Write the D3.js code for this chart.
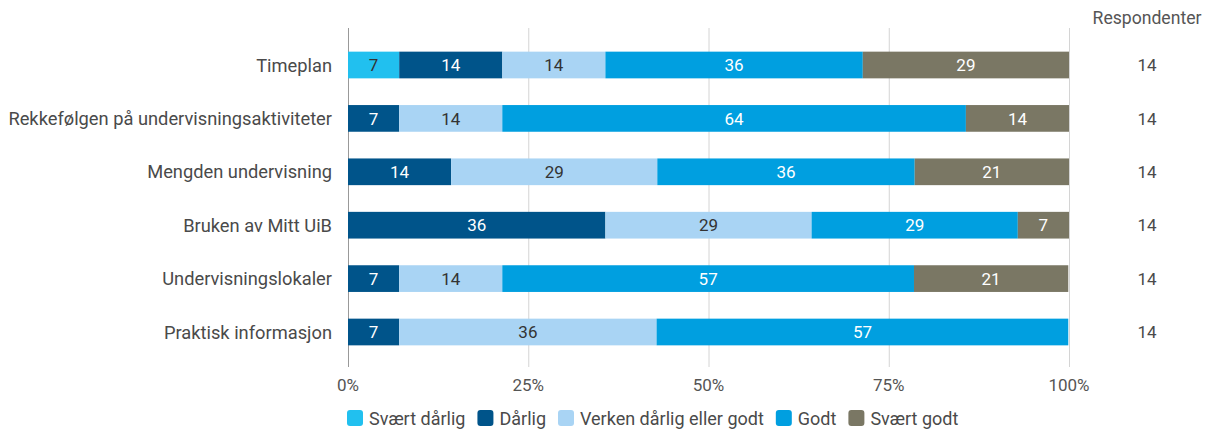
<!DOCTYPE html>
<html>
<head>
<meta charset="utf-8">
<script src="https://cdn.jsdelivr.net/npm/d3@7"></script>
<style>
  body { margin: 0; background: #fff; }
  svg { font-family: Roboto, "Noto Sans", sans-serif; }
</style>
</head>
<body>
<svg id="chart" width="1219" height="432"></svg>
<script>
// chart data
var categories = ["Timeplan", "Rekkefølgen på undervisningsaktiviteter", "Mengden undervisning",
    "Bruken av Mitt UiB", "Undervisningslokaler", "Praktisk informasjon"];
var seriesNames = ["Svært dårlig", "Dårlig", "Verken dårlig eller godt", "Godt", "Svært godt"];
var svaertDarlig = [7.1, 0, 0, 0, 0, 0];
var darlig = [14.3, 7.1, 14.3, 35.7, 7.1, 7.1];
var verken = [14.3, 14.3, 28.6, 28.6, 14.3, 35.7];
var godt = [35.7, 64.3, 35.7, 28.6, 57.1, 57.1];
var svaertGodt = [28.6, 14.3, 21.4, 7.1, 21.4, 0];
var respondenter = [14, 14, 14, 14, 14, 14];
var xTicks = [0, 25, 50, 75, 100];

var colors = ["#21c0ef", "#00548a", "#a9d4f4", "#009fe0", "#7a7764"];
var textColors = ["#333", "#fff", "#333", "#fff", "#fff"];

var series = [svaertDarlig, darlig, verken, godt, svaertGodt];

var svg = d3.select("#chart");
var x = d3.scaleLinear().domain([0, 100]).range([348, 1069]);
var y = d3.scaleBand().domain(categories).range([38.3, 358.7]).paddingInner(0.5).paddingOuter(0.25);

// gridlines
svg.append("g").selectAll("line")
    .data(xTicks)
    .enter().append("line")
    .attr("x1", d => x(d) + 0.5)
    .attr("x2", d => x(d) + 0.5)
    .attr("y1", 28)
    .attr("y2", 367)
    .attr("stroke", d => d === 0 ? "#999" : "#d4d4d4")
    .attr("stroke-width", 1);

// stacked bars
var rows = categories.map(function (c, i) {
    var acc = 0;
    return series.map(function (s, k) {
        var seg = { cat: c, k: k, v: s[i], x0: acc };
        acc += s[i];
        seg.x1 = acc;
        return seg;
    }).filter(d => d.v > 0);
});
var segs = [].concat.apply([], rows);

var bars = svg.append("g");
bars.selectAll("rect")
    .data(segs)
    .enter().append("rect")
    .attr("x", d => x(d.x0))
    .attr("y", d => y(d.cat))
    .attr("width", d => x(d.x1) - x(d.x0))
    .attr("height", y.bandwidth())
    .attr("fill", d => colors[d.k]);

bars.selectAll("text")
    .data(segs)
    .enter().append("text")
    .attr("x", d => (x(d.x0) + x(d.x1)) / 2)
    .attr("y", d => y(d.cat) + y.bandwidth() / 2)
    .attr("dy", "0.36em")
    .attr("text-anchor", "middle")
    .attr("font-size", 17)
    .attr("fill", d => textColors[d.k])
    .text(d => Math.round(d.v));

// category labels
svg.append("g").selectAll("text")
    .data(categories)
    .enter().append("text")
    .attr("x", 332)
    .attr("y", d => y(d) + y.bandwidth() / 2)
    .attr("dy", "0.36em")
    .attr("text-anchor", "end")
    .attr("font-size", 18.3)
    .attr("fill", "#4a4a4a")
    .text(d => d);

// x axis labels
svg.append("g").selectAll("text")
    .data(xTicks)
    .enter().append("text")
    .attr("x", d => x(d))
    .attr("y", 385)
    .attr("dy", "0.36em")
    .attr("text-anchor", "middle")
    .attr("font-size", 17)
    .attr("fill", "#555")
    .text(d => d + "%");

// respondenter column
svg.append("text")
    .attr("x", 1147)
    .attr("y", 18)
    .attr("dy", "0.36em")
    .attr("text-anchor", "middle")
    .attr("font-size", 17.6)
    .attr("fill", "#555")
    .text("Respondenter");

svg.append("g").selectAll("text")
    .data(respondenter)
    .enter().append("text")
    .attr("x", 1147)
    .attr("y", (d, i) => y(categories[i]) + y.bandwidth() / 2)
    .attr("dy", "0.36em")
    .attr("text-anchor", "middle")
    .attr("font-size", 17)
    .attr("fill", "#4a4a4a")
    .text(d => d);

// legend
var legend = svg.append("g");
var lx = 347;
seriesNames.forEach(function (name, k) {
    var g = legend.append("g").attr("transform", `translate(${lx},410)`);
    g.append("rect")
        .attr("width", 16).attr("height", 16)
        .attr("rx", 3)
        .attr("fill", colors[k]);
    var t = g.append("text")
        .attr("x", 22).attr("y", 8.5)
        .attr("dy", "0.36em")
        .attr("font-size", 18)
        .attr("fill", "#4a4a4a")
        .text(name);
    lx += 22 + t.node().getComputedTextLength() + 12;
});
</script>
</body>
</html>
